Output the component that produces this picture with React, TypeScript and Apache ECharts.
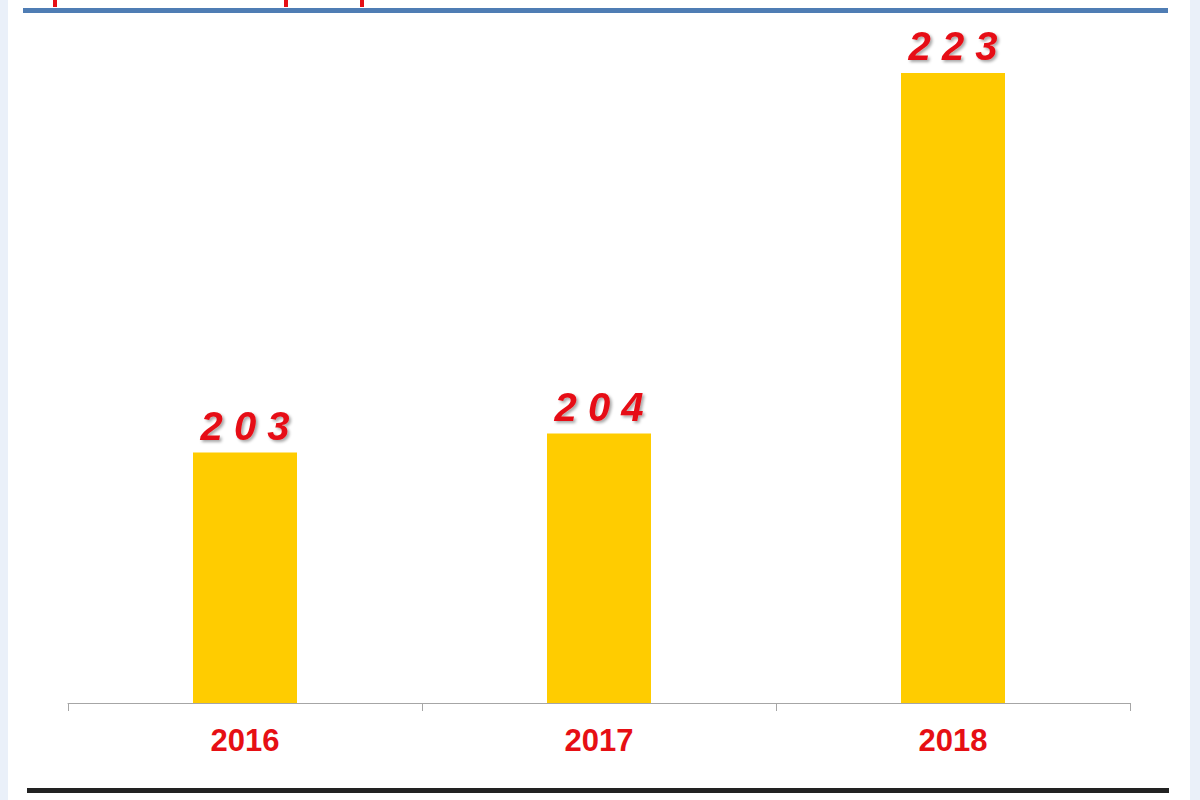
import { useEffect, useRef } from 'react'
import * as echarts from 'echarts'

const years = ['2016', '2017', '2018']
const counts = [203, 204, 223]

const BAR_COLOR = '#ffcc00'
const LABEL_RED = '#e60f14'

const App: React.FC = () => {
  const chartRef = useRef<HTMLDivElement | null>(null)

  useEffect(() => {
    if (!chartRef.current) return
    const chart = echarts.init(chartRef.current, null, { renderer: 'svg' })

    const option: echarts.EChartsOption = {
      animation: false,
      backgroundColor: '#ffffff',
      grid: { left: 68, right: 70, top: 35, bottom: 97 },
      // frame pieces around the plot (slide border, rules, clipped title descenders)
      graphic: [
        { type: 'rect', left: 0, top: 0, shape: { width: 8, height: 800 }, style: { fill: '#eaf0f9' }, silent: true },
        { type: 'rect', left: 1190, top: 0, shape: { width: 10, height: 800 }, style: { fill: '#eaf0f9' }, silent: true },
        { type: 'rect', left: 23, top: 8, shape: { width: 1145, height: 5 }, style: { fill: '#4f7db4' }, silent: true },
        { type: 'rect', left: 27, top: 788, shape: { width: 1142, height: 5 }, style: { fill: '#222222' }, silent: true },
        { type: 'rect', left: 53, top: 0, shape: { width: 4, height: 7 }, style: { fill: '#e60f14' }, silent: true },
        { type: 'rect', left: 284, top: 0, shape: { width: 4, height: 7 }, style: { fill: '#e60f14' }, silent: true },
        { type: 'rect', left: 360, top: 0, shape: { width: 4, height: 7 }, style: { fill: '#e60f14' }, silent: true },
      ],
      xAxis: {
        type: 'category',
        data: years,
        boundaryGap: true,
        axisLine: { show: true, lineStyle: { color: '#a6a6a6', width: 1 } },
        axisTick: { show: true, length: 8, alignWithLabel: false, lineStyle: { color: '#a6a6a6' } },
        axisLabel: {
          color: LABEL_RED,
          fontFamily: 'Liberation Sans, Arial, sans-serif',
          fontWeight: 'bold',
          fontSize: 31,
          margin: 22,
        },
      },
      yAxis: {
        type: 'value',
        min: 189.8,
        max: 225,
        show: false,
        splitLine: { show: false },
      },
      series: [
        {
          type: 'bar',
          data: counts,
          barWidth: 104,
          itemStyle: { color: BAR_COLOR },
          label: {
            show: true,
            position: 'top',
            distance: 7,
            formatter: (p: any) => String(p.value).split('').join(' '),
            color: LABEL_RED,
            fontFamily: 'Liberation Sans, Arial, sans-serif',
            fontWeight: 'bold',
            fontStyle: 'italic',
            fontSize: 40,
            textShadowColor: 'rgba(0,0,0,0.35)',
            textShadowBlur: 3,
            textShadowOffsetX: 2,
            textShadowOffsetY: 2,
          },
        },
      ],
    }

    chart.setOption(option)
    return () => {
      chart.dispose()
    }
  }, [])

  return (
    <div
      ref={chartRef}
      style={{ position: 'absolute', left: 0, top: 0, width: 1200, height: 800 }}
    />
  )
}

export default App
